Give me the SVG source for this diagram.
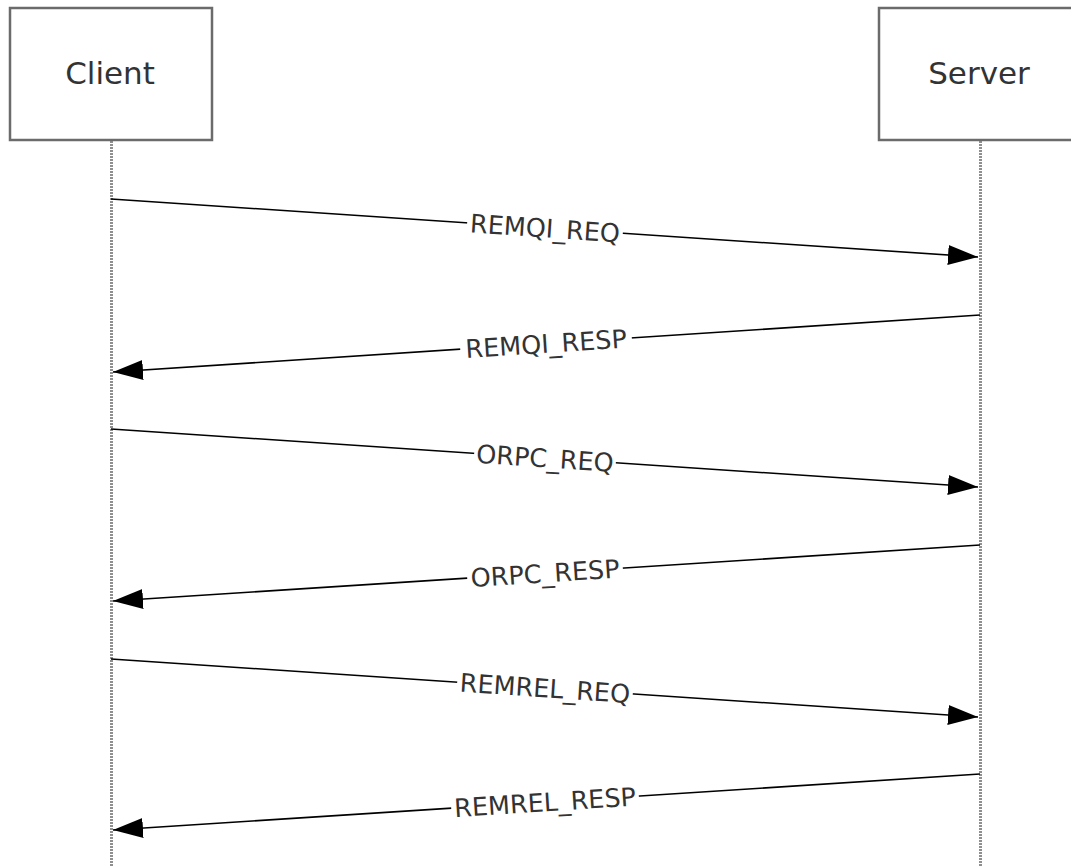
<svg xmlns="http://www.w3.org/2000/svg" width="1071" height="866" viewBox="0 0 1071 866">
<style>
.box{fill:#fff;stroke:#6b6b6b;stroke-width:2.5}
.life{stroke:#8f8f8f;stroke-width:3;stroke-dasharray:2,1;fill:none}
.msg{stroke:#000;stroke-width:1.6;fill:none}
.name{font-family:"DejaVu Sans",Verdana,sans-serif;font-size:31px;fill:#333}
.lbl{font-family:"DejaVu Sans",Verdana,sans-serif;font-size:25.5px;fill:#333}
.bg{fill:#fff}
</style>
<defs>
<marker id="ah" viewBox="0 0 30 20" refX="30" refY="10" markerWidth="30" markerHeight="20" markerUnits="userSpaceOnUse" orient="auto">
<path d="M0,0 L30,10 L0,20 Z" fill="#000"/>
</marker>
</defs>
<g id="lifelines">
<line class="life" x1="111.5" y1="141" x2="111.5" y2="866"/>
<line class="life" x1="980.5" y1="141" x2="980.5" y2="866"/>
</g>
<g id="client">
<rect class="box" x="10" y="8" width="202" height="132"/>
<text class="name" x="110" y="84" text-anchor="middle">Client</text>
</g>
<g id="server">
<rect class="box" x="879" y="8" width="202" height="132"/>
<text class="name" x="979" y="84" text-anchor="middle">Server</text>
</g>
<g id="connectors">
<line class="msg" x1="111" y1="199" x2="978" y2="257" marker-end="url(#ah)"/>
<line class="msg" x1="980" y1="315" x2="113" y2="372" marker-end="url(#ah)"/>
<line class="msg" x1="111" y1="429" x2="978" y2="487" marker-end="url(#ah)"/>
<line class="msg" x1="980" y1="545" x2="113" y2="601" marker-end="url(#ah)"/>
<line class="msg" x1="111" y1="659" x2="978" y2="717" marker-end="url(#ah)"/>
<line class="msg" x1="980" y1="774" x2="113" y2="830" marker-end="url(#ah)"/>
</g>
<g id="labels">
<g transform="translate(545,228) rotate(3.82)"><rect class="bg" x="-78" y="-4" width="156" height="8"/><text class="lbl" x="0" y="9.3" text-anchor="middle">REMQI_REQ</text></g>
<g transform="translate(546,343.5) rotate(-3.75)"><rect class="bg" x="-86" y="-4" width="172" height="8"/><text class="lbl" x="0" y="9.3" text-anchor="middle">REMQI_RESP</text></g>
<g transform="translate(545,458) rotate(3.82)"><rect class="bg" x="-71" y="-4" width="142" height="8"/><text class="lbl" x="0" y="9.3" text-anchor="middle">ORPC_REQ</text></g>
<g transform="translate(545,573) rotate(-3.69)"><rect class="bg" x="-78" y="-4" width="156" height="8"/><text class="lbl" x="0" y="9.3" text-anchor="middle">ORPC_RESP</text></g>
<g transform="translate(545,688) rotate(3.82)"><rect class="bg" x="-88" y="-4" width="176" height="8"/><text class="lbl" x="0" y="9.3" text-anchor="middle">REMREL_REQ</text></g>
<g transform="translate(545,802) rotate(-3.69)"><rect class="bg" x="-94" y="-4" width="188" height="8"/><text class="lbl" x="0" y="9.3" text-anchor="middle">REMREL_RESP</text></g>
</g>
</svg>
